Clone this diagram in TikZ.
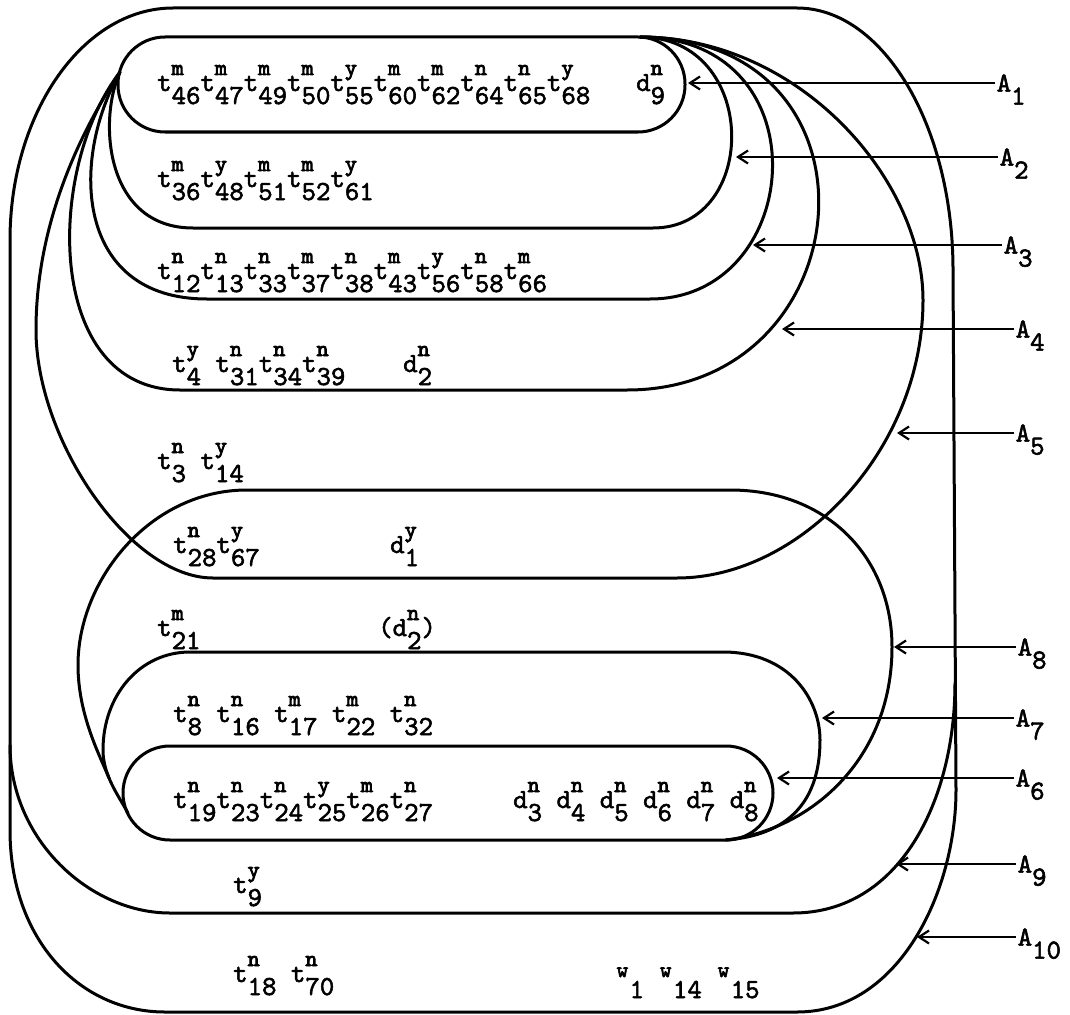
\documentclass[tikz,border=0pt]{standalone}
\usetikzlibrary{arrows.meta}
\font\tw="[lmmono10-regular.otf]:embolden=2" at 27.5pt
\font\twsup="[lmmono10-regular.otf]:embolden=3.5" at 23pt
\font\tww="[lmmono10-regular.otf]:embolden=3" at 22pt
\newcommand{\itm}[3]{#1\rlap{\raisebox{16pt}{\twsup #2}}\raisebox{-13pt}{#3}}
\newcommand{\tm}[2]{\itm{t}{#1}{#2}}
\newcommand{\dm}[2]{\itm{d}{#1}{#2}}
\newcommand{\wm}[1]{\makebox[14.44pt][c]{\raisebox{8pt}{\tww w}}\raisebox{-13pt}{#1}}
\newcommand{\lbl}[1]{A\rlap{\smash{\raisebox{-13pt}{#1}}}}
\tikzset{
  bnd/.style={line width=3pt, line join=round, line cap=round},
  txt/.style={anchor=base west, inner sep=0pt, font=\tw},
  lab/.style={anchor=west, inner sep=1.5pt, font=\tw},
  arr/.style={line width=2.4pt, -{Straight Barb[length=10pt,width=13pt,line width=2.2pt]}}
}
\begin{document}
\begin{tikzpicture}[x=1pt,y=-1pt]
\useasboundingbox (0,0) rectangle (1070,1014);
% A1
\draw[bnd, rounded corners=47pt] (118,37) rectangle (685,132);
% A2
\draw[bnd] (120,72) .. controls (98,120) and (105,228) .. (193,228) -- (653,228) .. controls (760,228) and (760,37) .. (640,37);
% A3
\draw[bnd] (120,72) .. controls (70,160) and (75,299) .. (207,299) -- (650,299) .. controls (805,299) and (825,37) .. (640,37);
% A4
\draw[bnd] (120,72) .. controls (45,170) and (45,390) .. (180,390) -- (627,390) .. controls (865,390) and (895,37) .. (640,37);
% A5
\draw[bnd] (120,72) .. controls (75,140) and (36,230) .. (36,330) .. controls (36,440) and (130,578) .. (213,578) -- (677,578) .. controls (800,578) and (923,450) .. (923,300) .. controls (923,180) and (800,37) .. (640,37);
% A6
\draw[bnd, rounded corners=47pt] (123,746) rectangle (773,840);
% A7
\draw[bnd] (128,813) .. controls (118,795) and (103,775) .. (103,750) .. controls (103,695) and (140,652) .. (190,652) -- (723,652) .. controls (790,652) and (820,700) .. (820,740) .. controls (820,800) and (790,835) .. (726,840);
% A8
\draw[bnd] (109,778) .. controls (100,756) and (78,715) .. (78,665) .. controls (78,580) and (150,490) .. (247,490) -- (730,490) .. controls (830,490) and (892,560) .. (892,647) .. controls (892,760) and (810,830) .. (726,840);
% A10 (outer)
\draw[bnd] (165,1012) .. controls (80,1012) and (10,940) .. (10,830) -- (10,240) .. controls (10,113) and (83,8) .. (173,8) -- (797,8) .. controls (883,8) and (953,126) .. (953,270) -- (956,790) .. controls (956,890) and (900,1012) .. (797,1012) -- cycle;
% A9
\draw[bnd] (10,745) .. controls (10,840) and (90,913) .. (170,913) -- (793,913) .. controls (900,913) and (955,800) .. (955,683);

% texts
\node[txt] (r1) at (157,91) {\tm{m}{46}\tm{m}{47}\tm{m}{49}\tm{m}{50}\tm{y}{55}\tm{m}{60}\tm{m}{62}\tm{n}{64}\tm{n}{65}\tm{y}{68}};
\node[txt] (d9) at (636,91) {\dm{n}{9}};
\node[txt] (r2) at (157,187) {\tm{m}{36}\tm{y}{48}\tm{m}{51}\tm{m}{52}\tm{y}{61}};
\node[txt] (r3) at (157,279) {\tm{n}{12}\tm{n}{13}\tm{n}{33}\tm{m}{37}\tm{n}{38}\tm{m}{43}\tm{y}{56}\tm{n}{58}\tm{m}{66}};
\node[txt] (r4) at (172,372) {\tm{y}{4} \tm{n}{31}\tm{n}{34}\tm{n}{39}};
\node[txt] (d2) at (403,372) {\dm{n}{2}};
\node[txt] (r5) at (157,469) {\tm{n}{3} \tm{y}{14}};
\node[txt] (r6) at (173,553) {\tm{n}{28}\tm{y}{67}};
\node[txt] (d1) at (390,553) {\dm{y}{1}};
\node[txt] (r7) at (157,636) {\tm{m}{21}};
\node[txt] (d2b) at (378,636) {(\dm{n}{2})};
\node[txt] (r8) at (173,722) {\tm{n}{8} \tm{n}{16} \tm{m}{17} \tm{m}{22} \tm{n}{32}};
\node[txt] (r9) at (173,808) {\tm{n}{19}\tm{n}{23}\tm{n}{24}\tm{y}{25}\tm{m}{26}\tm{n}{27}};
\node[txt] (d38) at (513,808) {\dm{n}{3} \dm{n}{4} \dm{n}{5} \dm{n}{6} \dm{n}{7} \dm{n}{8}};
\node[txt] (r10) at (233,893) {\tm{y}{9}};
\node[txt] (r11) at (233,982) {\tm{n}{18} \tm{n}{70}};
\node[txt] (ws) at (615,985) {\wm{1} \wm{14} \wm{15}};

% labels and arrows
\node[lab] (L1) at (995,83) {\lbl{1}};
\node[lab] (L2) at (998,157) {\lbl{2}};
\node[lab] (L3) at (1002,245) {\lbl{3}};
\node[lab] (L4) at (1014,329) {\lbl{4}};
\node[lab] (L5) at (1014,433) {\lbl{5}};
\node[lab] (L8) at (1016,647) {\lbl{8}};
\node[lab] (L7) at (1014,718) {\lbl{7}};
\node[lab] (L6) at (1014,778) {\lbl{6}};
\node[lab] (L9) at (1016,864) {\lbl{9}};
\node[lab] (L10) at (1016,937) {\lbl{10}};
\coordinate (T1) at (688,83);
\coordinate (T2) at (736,157);
\coordinate (T3) at (753,245);
\coordinate (T4) at (782,329);
\coordinate (T5) at (897,433);
\coordinate (T8) at (894,647);
\coordinate (T7) at (822,718);
\coordinate (T6) at (777,778);
\coordinate (T9) at (896,864);
\coordinate (T10) at (917,937);
\foreach \i in {1,2,3,4,5,6,7,8,9,10} {\draw[arr] (L\i.west) -- (T\i);}
\end{tikzpicture}
\end{document}
